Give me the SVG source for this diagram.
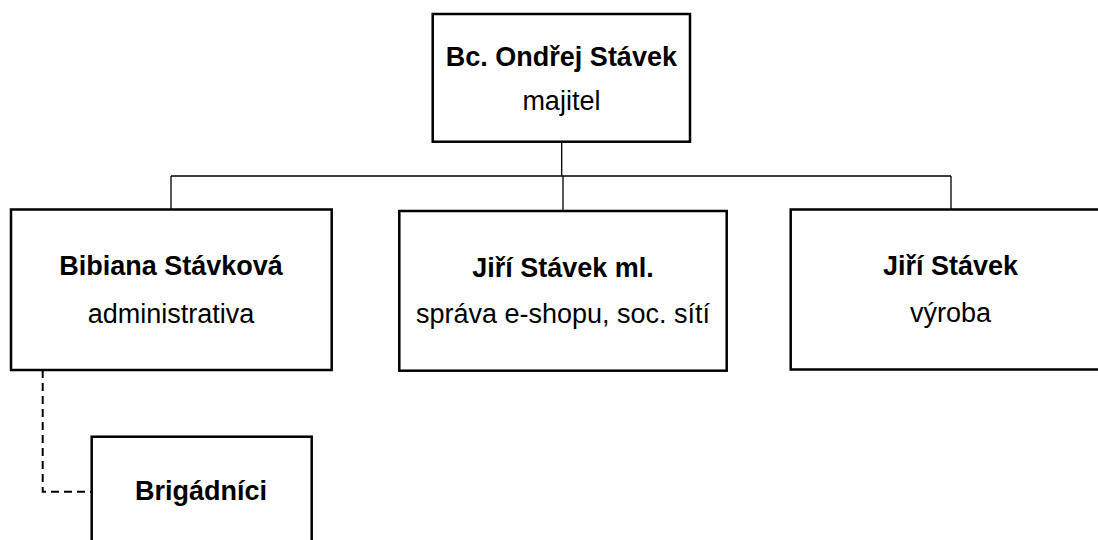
<svg xmlns="http://www.w3.org/2000/svg" width="1098" height="540" viewBox="0 0 1098 540">
<style>
.box{fill:#fff;stroke:#000;stroke-width:2.5}
.con{fill:none;stroke:#000;stroke-width:1.3}
.dash{fill:none;stroke:#000;stroke-width:2;stroke-dasharray:8 5}
text{font-family:"Liberation Sans",Arial,sans-serif;font-size:27px;fill:#000;text-anchor:middle}
.b{font-weight:bold}
</style>
<rect width="1098" height="540" fill="#fff"/>
<g id="connectors">
<path class="con" d="M561.7,141.7 V176 M171,176 H951 M563,176 V211 M171,176 V209.5 M951,176 V209.5"/>
<path class="dash" d="M42.7,370 V491.7 H91.7"/>
</g>
<g id="owner">
<rect class="box" x="432.7" y="14" width="257.3" height="127.7"/>
<text class="b" x="561.4" y="65.7">Bc. Ondřej Stávek</text>
<text x="561.4" y="110">majitel</text>
</g>
<g id="bibiana">
<rect class="box" x="11" y="209.5" width="320.7" height="160.5"/>
<text class="b" x="171" y="275">Bibiana Stávková</text>
<text x="171" y="323">administrativa</text>
</g>
<g id="jiri-ml">
<rect class="box" x="399.3" y="211" width="327.4" height="159.7"/>
<text class="b" x="563" y="277">Jiří Stávek ml.</text>
<text x="563" y="323">správa e-shopu, soc. sítí</text>
</g>
<g id="jiri">
<rect class="box" x="790.7" y="209.5" width="320" height="160"/>
<text class="b" x="950.5" y="275">Jiří Stávek</text>
<text x="950.5" y="322">výroba</text>
</g>
<g id="brigadnici">
<rect class="box" x="91.7" y="436.7" width="220" height="140"/>
<text class="b" x="201" y="500">Brigádníci</text>
</g>
</svg>
